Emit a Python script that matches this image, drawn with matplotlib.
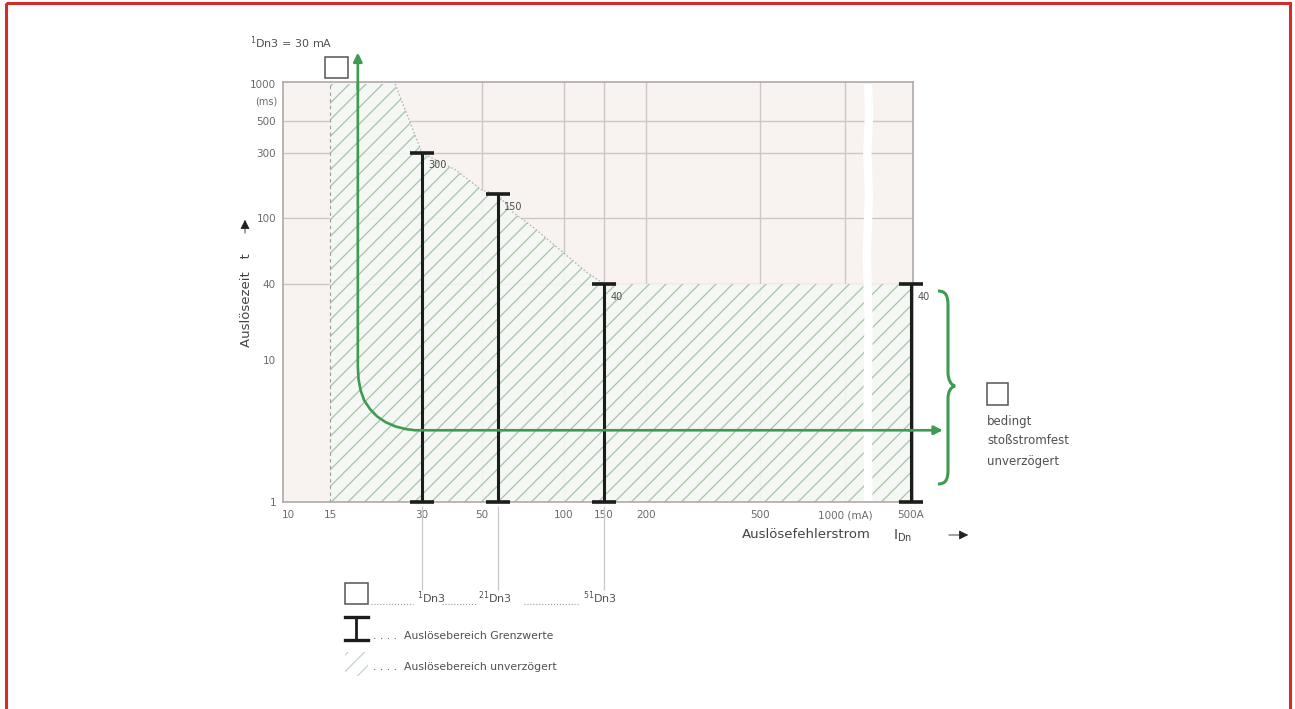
import numpy as np
import matplotlib
matplotlib.use("Agg")
import matplotlib.pyplot as plt
from matplotlib.patches import Rectangle, PathPatch
from matplotlib.path import Path

plt.rcParams["font.family"] = ["DejaVu Sans"]
plt.rcParams["hatch.linewidth"] = 0.9

# ---- data ----------------------------------------------------------------
x_tick_vals = [10, 15, 30, 50, 100, 150, 200, 500, 1000, 500000]
x_tick_labels = ["10", "15", "30", "50", "100", "150", "200", "500", "1000 (mA)", "500A"]
y_tick_vals = [1, 10, 40, 100, 300, 500, 1000]
y_tick_labels = ["1", "10", "40", "100", "300", "500", "1000"]

# trip limit bars (I-beams): current, upper limit time
bar_current = [30, 57, 150, 500000]
bar_top = [300, 150, 40, 40]
bar_labels = ["300", "150", "40", "40"]

# upper edge of the hatched (undelayed) tripping area
zone_x = [15, 24.5, 30, 40, 50, 57, 65, 77, 97, 126, 150, 500000]
zone_top = [1000, 1000, 300, 225, 160, 150, 110, 88, 64, 47, 40, 40]

# green trip characteristic of the 30 mA device
curve_x = [18.5, 18.5, 18.6, 18.9, 19.4, 20.3, 21.4, 22.8, 24.6, 26.6, 28.5, 500000]
curve_y = [1000, 9.0, 7.3, 6.1, 5.2, 4.5, 4.0, 3.65, 3.4, 3.26, 3.2, 3.2]
curve_tip_y = 1800
curve_tip_x = 1e7

# white axis break
break_x = [8700, 9800, 8200, 9500, 7800, 9200, 8400, 9000]
break_y = [1000, 600, 300, 150, 60, 20, 5, 1]

# ---- layout (pixel anchors of the drawn scales) --------------------------
W, H = 1295, 709
x_tick_px = [288, 330, 422, 482, 564, 604, 646, 760, 845, 911]
y_tick_px = [502, 360, 284, 218, 153, 121, 84]
AX_L, AX_R, AX_T, AX_B = 283, 913, 82, 502

GREEN = "#3f9b52"
GREY = "#6b6b6b"
TXT = "#505050"


def interp_scale(vals, pos):
    lv = np.log10(np.asarray(vals, float))
    p = np.asarray(pos, float)
    s0 = (p[1] - p[0]) / (lv[1] - lv[0])
    s1 = (p[-1] - p[-2]) / (lv[-1] - lv[-2])

    def fwd(v):
        x = np.log10(np.clip(np.asarray(v, float), 1e-300, None))
        out = np.interp(x, lv, p)
        out = np.where(x < lv[0], p[0] + (x - lv[0]) * s0, out)
        out = np.where(x > lv[-1], p[-1] + (x - lv[-1]) * s1, out)
        return out

    def inv(q):
        q = np.asarray(q, float)
        x = np.interp(q, p, lv)
        x = np.where(q < p[0], lv[0] + (q - p[0]) / s0, x)
        x = np.where(q > p[-1], lv[-1] + (q - p[-1]) / s1, x)
        return 10 ** x

    return fwd, inv


fig = plt.figure(figsize=(W / 100, H / 100), dpi=100)
fig.patch.set_facecolor("white")
ax = fig.add_axes([AX_L / W, (H - AX_B) / H, (AX_R - AX_L) / W, (AX_B - AX_T) / H])

fx, ix = interp_scale(x_tick_vals, x_tick_px)
fy, iy = interp_scale(y_tick_vals, [-p for p in y_tick_px])
ax.set_xscale("function", functions=(fx, ix))
ax.set_yscale("function", functions=(fy, iy))
ax.set_xlim(ix(AX_L), ix(AX_R))
ax.set_ylim(iy(-AX_B), iy(-AX_T))
ax.set_facecolor("#f8f3f1")

ax.set_xticks(x_tick_vals)
ax.set_xticklabels(x_tick_labels)
ax.set_yticks(y_tick_vals)
ax.set_yticklabels(y_tick_labels)
ax.tick_params(length=0, labelsize=7.5, labelcolor=GREY)
ax.tick_params(axis="x", pad=6)
ax.tick_params(axis="y", pad=5)
for s in ax.spines.values():
    s.set_color("#aaa2a2")
    s.set_linewidth(1.1)

# grid
for xv in [50, 100, 150, 200, 500, 1000]:
    ax.axvline(xv, color="#cfc6c6", lw=1.0, zorder=0.5)
for yv in [40, 100, 300, 500]:
    ax.axhline(yv, color="#cfc6c6", lw=1.0, zorder=0.5)

# hatched undelayed tripping zone
ax.fill_between(zone_x, 1, zone_top, facecolor=(0.955, 0.972, 0.955, 0.9),
                edgecolor="#a9c3a9", hatch="//", linewidth=0, zorder=1)
ax.plot(zone_x[1:11], zone_top[1:11], ls=":", color="#b0b0b0", lw=1.0, zorder=1.2)
ax.axvline(15, color="#9a9a9a", lw=0.8, ls=(0, (3, 3)), zorder=1.2)

# axis break
ax.plot(break_x, break_y, color="white", lw=6, zorder=1.5, solid_capstyle="butt")

# trip limit bars
bt = np.array(bar_top, float)
ax.errorbar(bar_current, bt, yerr=[bt - 1, np.zeros_like(bt)], fmt="none",
            ecolor="#1c1c1c", elinewidth=2.2, capsize=8.5, capthick=2.6,
            zorder=3, clip_on=False)
for xv, yv, lab in zip(bar_current, bar_top, bar_labels):
    ax.annotate(lab, (xv, yv), xytext=(4.5, -9), textcoords="offset points",
                fontsize=7, color=TXT, va="center", ha="left", zorder=3)

# green characteristic
ax.plot(curve_x, curve_y, color=GREEN, lw=1.9, zorder=4, clip_on=False,
        solid_joinstyle="round")
ax.annotate("", xy=(curve_x[0], curve_tip_y), xytext=(curve_x[0], 900),
            arrowprops=dict(arrowstyle="-|>", color=GREEN, lw=1.9, mutation_scale=13,
                            shrinkA=0, shrinkB=0), annotation_clip=False, zorder=4)
ax.annotate("", xy=(curve_tip_x, curve_y[-1]), xytext=(400000, curve_y[-1]),
            arrowprops=dict(arrowstyle="-|>", color=GREEN, lw=1.9, mutation_scale=13,
                            shrinkA=0, shrinkB=0), annotation_clip=False, zorder=4)

# leader lines from the bars down to the legend
xt = ax.get_xaxis_transform()
ax.vlines(bar_current[:3], -0.01, -(590 - AX_B) / (AX_B - AX_T), transform=xt,
          color="#c8c8c8", lw=0.9, clip_on=False)

# ---- overlay in pixel coordinates ----------------------------------------
ov = fig.add_axes([0, 0, 1, 1])
ov.set_xlim(0, W)
ov.set_ylim(H, 0)
ov.axis("off")
ov.patch.set_visible(False)

ov.add_patch(Rectangle((6, 3), 1284, 730, fill=False, edgecolor="#d42b2b", lw=2.2, clip_on=False))

ov.text(250, 43, r"$^{1}$Dn3 = 30 mA", fontsize=8, color=TXT, va="center")
ov.add_patch(Rectangle((325, 57), 23, 21, fill=False, edgecolor="#555555", lw=1.1))
ov.text(277, 101, "(ms)", fontsize=7, color=GREY, ha="right", va="center")

ov.text(246, 300, "Auslösezeit   t", rotation=90, fontsize=9.5, color="#444444",
        ha="center", va="center")
ov.annotate("", xy=(245, 217), xytext=(245, 236),
            arrowprops=dict(arrowstyle="-|>", color="#222222", lw=0.6, mutation_scale=14))

ov.text(742, 535, "Auslösefehlerstrom", fontsize=9.5, color="#444444", va="center")
ov.text(893, 536, r"I$_{\mathregular{Dn}}$", fontsize=10, color="#444444", va="center")
ov.annotate("", xy=(971, 535), xytext=(946, 535),
            arrowprops=dict(arrowstyle="-|>", color="#222222", lw=0.6, mutation_scale=14))

# curly brace
brace = Path([(938, 291), (946, 291), (948, 296), (948, 306),
              (948, 372), (948, 380), (951, 385), (955, 386),
              (951, 387), (948, 391), (948, 399),
              (948, 470), (948, 479), (946, 484), (938, 484)],
             [Path.MOVETO, Path.CURVE4, Path.CURVE4, Path.CURVE4,
              Path.LINETO, Path.CURVE4, Path.CURVE4, Path.CURVE4,
              Path.CURVE4, Path.CURVE4, Path.CURVE4,
              Path.LINETO, Path.CURVE4, Path.CURVE4, Path.CURVE4])
ov.add_patch(PathPatch(brace, fill=False, edgecolor=GREEN, lw=2.2))

ov.add_patch(Rectangle((987, 383), 21, 22, fill=False, edgecolor="#555555", lw=1.1))
for yy, txt in zip([422, 441, 462], ["bedingt", "stoßstromfest", "unverzögert"]):
    ov.text(987, yy, txt, fontsize=8.5, color=TXT, va="center")

# legend
ov.add_patch(Rectangle((345, 583), 23, 21, fill=False, edgecolor="#555555", lw=1.1))
for xx, txt in zip([417, 478, 583], [r"$^{1}$Dn3", r"$^{21}$Dn3", r"$^{51}$Dn3"]):
    ov.text(xx, 598, txt, fontsize=8, color=TXT, va="center")
for x0, x1 in [(371, 413), (442, 476), (524, 580)]:
    ov.plot([x0, x1], [604, 604], ls=":", color="#9a9a9a", lw=0.8)

ov.plot([356, 356], [617, 640], color="#1c1c1c", lw=2.0)
ov.plot([345, 368], [617, 617], color="#1c1c1c", lw=2.4)
ov.plot([345, 368], [640, 640], color="#1c1c1c", lw=2.4)
ov.text(373, 636, ". . . .  Auslösebereich Grenzwerte", fontsize=7.8, color=TXT, va="center")

ov.add_patch(Rectangle((345, 652), 23, 24, facecolor="none", edgecolor="#c5d3c5",
                       hatch="//", lw=0))
ov.text(373, 667, ". . . .  Auslösebereich unverzögert", fontsize=7.8, color=TXT, va="center")

fig.savefig("out.png", dpi=100)
